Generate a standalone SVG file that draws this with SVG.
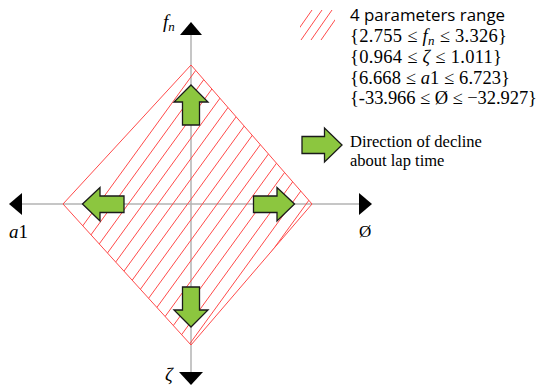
<svg xmlns="http://www.w3.org/2000/svg" width="539" height="389" viewBox="0 0 539 389">
<style>
.axis{stroke:#b3b3b3;stroke-width:1.5;fill:none}
.head{fill:#000}
.red{stroke:#ff4a4a;stroke-width:1;fill:none}
.garrow{fill:#8cc63f;stroke:#1a1a1a;stroke-width:1.3;stroke-linejoin:miter}
.serif{font-family:"Liberation Serif","Times New Roman",serif;fill:#000}
.sans{font-family:"Open Sans","Liberation Sans",sans-serif;fill:#000}
.it{font-style:italic}
</style>
<defs>
<clipPath id="dclip"><polygon points="191,65 312,204 191,345 63,204"/></clipPath>
<clipPath id="lclip"><rect x="300" y="10" width="35" height="30"/></clipPath>
</defs>

<g id="legend-hatch" clip-path="url(#lclip)" class="red">
<line x1="291" y1="40" x2="312" y2="10"/>
<line x1="301" y1="40" x2="322" y2="10"/>
<line x1="311" y1="40" x2="332" y2="10"/>
<line x1="321" y1="40" x2="342" y2="10"/>
</g>

<g id="legend-text">
<text class="sans" x="350" y="21" font-size="16" textLength="155" lengthAdjust="spacingAndGlyphs">4 parameters range</text>
<text class="serif" x="350" y="42" font-size="18.5" textLength="157" lengthAdjust="spacing">{2.755 ≤ <tspan class="it">f</tspan><tspan class="it" font-size="13" dy="3">n</tspan><tspan dy="-3"> ≤ 3.326}</tspan></text>
<text class="serif" x="350" y="62.5" font-size="18.5" textLength="152" lengthAdjust="spacing">{0.964 ≤ <tspan class="it">ζ</tspan> ≤ 1.011}</text>
<text class="serif" x="350" y="83.5" font-size="18.5" textLength="160" lengthAdjust="spacing">{6.668 ≤ <tspan class="it">a</tspan>1 ≤ 6.723}</text>
<text class="serif" x="350" y="104" font-size="18.5" textLength="187" lengthAdjust="spacing">{-33.966 ≤ Ø ≤ −32.927}</text>
</g>

<g id="axes">
<line class="axis" x1="191" y1="34" x2="191" y2="373"/>
<line class="axis" x1="21" y1="204" x2="360" y2="204"/>
<polygon class="head" points="191,22 180,35 202,35"/>
<polygon class="head" points="191,385 179,372 203,372"/>
<polygon class="head" points="9,204 22,193 22,215"/>
<polygon class="head" points="372,204 359,193 359,215"/>
<text class="serif" x="163" y="28" font-size="19"><tspan class="it">f</tspan><tspan class="it" font-size="13" dy="3">n</tspan></text>
<text class="serif" x="9" y="238" font-size="19"><tspan class="it">a</tspan>1</text>
<text class="serif" x="359" y="237" font-size="17">Ø</text>
<text class="serif it" x="165" y="381" font-size="19">ζ</text>
</g>

<g id="range-region">
<polygon class="red" points="191,65 312,204 191,345 63,204"/>
<g clip-path="url(#dclip)" class="red">
<line x1="217.8" y1="40" x2="-22.1" y2="370"/>
<line x1="232.6" y1="40" x2="-7.3" y2="370"/>
<line x1="247.5" y1="40" x2="7.6" y2="370"/>
<line x1="262.3" y1="40" x2="22.4" y2="370"/>
<line x1="277.1" y1="40" x2="37.2" y2="370"/>
<line x1="292.0" y1="40" x2="52.1" y2="370"/>
<line x1="306.8" y1="40" x2="66.9" y2="370"/>
<line x1="321.6" y1="40" x2="81.7" y2="370"/>
<line x1="336.4" y1="40" x2="96.5" y2="370"/>
<line x1="351.3" y1="40" x2="111.4" y2="370"/>
<line x1="366.1" y1="40" x2="126.2" y2="370"/>
<line x1="380.9" y1="40" x2="141.0" y2="370"/>
<line x1="395.8" y1="40" x2="155.9" y2="370"/>
<line x1="410.6" y1="40" x2="170.7" y2="370"/>
<line x1="425.4" y1="40" x2="185.5" y2="370"/>
</g>
</g>

<g id="arrow-up"><polygon class="garrow" points="191,85 208,102 199.5,102 199.5,125 182.5,125 182.5,102 174,102"/></g>
<g id="arrow-down"><polygon class="garrow" points="191,327 208,310 199.5,310 199.5,287 182.5,287 182.5,310 174,310"/></g>
<g id="arrow-left"><polygon class="garrow" points="82.5,204 100,187.5 100,196 124,196 124,212.5 100,212.5 100,221"/></g>
<g id="arrow-right"><polygon class="garrow" points="294.5,204 277,187.5 277,196 253.5,196 253.5,212.5 277,212.5 277,221"/></g>

<g id="legend-arrow">
<polygon class="garrow" points="342,145 324.5,128 324.5,136.5 302,136.5 302,153.5 324.5,153.5 324.5,162"/>
<text class="serif" x="350" y="147" font-size="16.5">Direction of decline</text>
<text class="serif" x="350" y="166" font-size="16.5">about lap time</text>
</g>
</svg>
